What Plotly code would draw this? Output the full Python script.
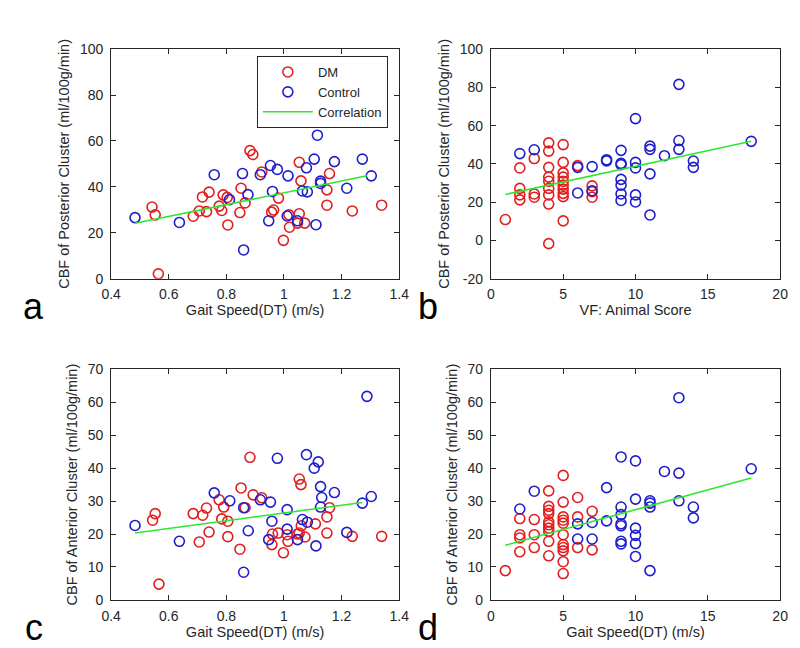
import plotly.graph_objects as go

# ---------------- data ----------------
# Panel a: Gait speed (DT) vs posterior-cluster CBF
a_dm_x = [0.542, 0.553, 0.564, 0.685, 0.706, 0.731, 0.717, 0.740, 0.775, 0.784, 0.789, 0.803, 0.805, 0.847,
          0.851, 0.865, 0.882, 0.892, 0.923, 1.053, 1.158, 1.059, 1.149, 0.981, 0.957, 0.964, 1.149, 1.237,
          1.339, 1.019, 1.017, 1.053, 1.047, 1.072, 0.998]
a_dm_y = [31.2, 27.8, 2.1, 27.2, 29.5, 29.2, 35.6, 37.7, 31.6, 29.7, 36.5, 35.4, 23.4, 28.8,
          39.4, 33.0, 55.8, 54.1, 46.5, 50.7, 45.8, 42.6, 38.7, 35.1, 29.0, 29.9, 32.0, 29.5,
          32.0, 22.4, 27.8, 28.3, 24.2, 24.2, 16.7]
a_ct_x = [0.483, 0.637, 0.758, 0.856, 0.811, 0.875, 0.860, 0.918, 0.953, 0.977, 1.014, 1.105, 1.078, 1.116,
          1.175, 1.272, 1.303, 1.127, 1.127, 1.218, 0.960, 1.064, 1.081, 1.011, 0.947, 1.047, 1.111]
a_ct_y = [26.6, 24.5, 45.3, 45.8, 34.4, 36.6, 12.5, 45.3, 49.3, 47.6, 44.8, 52.1, 48.3, 62.5,
          51.0, 52.1, 44.8, 42.5, 41.5, 39.4, 38.0, 38.2, 37.8, 27.3, 25.2, 25.2, 23.5]
a_fit_x = [0.483, 1.288]
a_fit_y = [24.1, 44.8]

# Panel b: VF animal score vs posterior-cluster CBF
b_dm_x = [1, 2, 2, 2, 2, 3, 3, 3,
          4, 4, 4, 4, 4, 4, 4, 4, 4,
          5, 5, 5, 5, 5, 5, 5, 5, 5, 5,
          6, 7, 7, 7]
b_dm_y = [10.9, 37.9, 27.2, 23.8, 21.2, 42.8, 24.3, 22.6,
          51.0, 46.7, 38.2, 33.1, 30.9, 27.2, 23.8, 19.0, -1.7,
          50.1, 40.8, 35.3, 33.1, 30.9, 28.9, 26.8, 24.6, 22.9, 10.2,
          39.1, 28.5, 25.5, 22.6]
b_ct_x = [2, 3, 6, 6, 7, 7, 8, 8, 9, 9, 9, 9, 9, 9, 9, 10, 10, 10, 10, 10,
          11, 11, 11, 11, 12, 13, 13, 13, 14, 14, 18]
b_ct_y = [45.4, 47.4, 38.2, 24.8, 38.6, 26.0, 41.6, 42.2, 47.1, 40.3, 39.6, 31.9, 28.9, 24.3, 20.9,
          63.7, 40.8, 37.9, 23.8, 20.1, 49.3, 47.6, 34.8, 13.3, 44.3, 81.6, 52.2, 47.6, 41.5, 38.2, 51.8]
b_fit_x = [1, 18]
b_fit_y = [24.0, 51.8]

# Panel c: Gait speed (DT) vs anterior-cluster CBF
c_dm_x = [0.553, 0.544, 0.566, 0.685, 0.718, 0.731, 0.706, 0.740, 0.775, 0.791, 0.784, 0.805, 0.805, 0.847,
          0.851, 0.865, 0.882, 0.893, 1.053, 1.059, 0.923, 1.158, 1.149, 1.060, 1.109, 0.960, 0.980, 0.958,
          1.011, 1.014, 1.047, 1.053, 1.073, 0.998, 1.149, 1.237, 1.339]
c_dm_y = [26.2, 24.2, 4.8, 26.2, 25.7, 27.9, 17.6, 20.6, 30.4, 28.2, 24.6, 23.9, 19.2, 15.4,
          34.0, 28.0, 43.3, 31.9, 36.7, 35.0, 31.0, 28.0, 25.2, 22.5, 23.1, 20.0, 20.3, 16.8,
          19.8, 17.8, 20.0, 20.3, 19.1, 14.3, 20.3, 19.3, 19.3]
c_ct_x = [0.483, 0.637, 0.758, 0.812, 0.860, 0.876, 0.860, 0.977, 1.078, 1.119, 1.105, 0.918, 0.953, 1.127,
          1.131, 1.175, 1.127, 1.011, 1.272, 1.303, 1.288, 0.958, 1.064, 1.081, 1.011, 0.947, 1.047, 1.111, 1.218]
c_ct_y = [22.6, 17.8, 32.5, 30.1, 28.0, 21.0, 8.4, 43.0, 44.1, 41.9, 40.0, 30.4, 29.7, 34.4,
          31.1, 32.6, 28.2, 27.4, 29.4, 31.4, 61.8, 23.9, 24.4, 23.6, 21.5, 18.3, 18.3, 16.4, 20.5]
c_fit_x = [0.483, 1.272]
c_fit_y = [20.3, 29.6]

# Panel d
d_dm_x = [1, 2, 2, 2, 2, 3, 3, 3,
          4, 4, 4, 4, 4, 4, 4, 4, 4, 4,
          5, 5, 5, 5, 5, 5, 5, 5, 5, 5, 5,
          6, 6, 6, 7, 7]
d_dm_y = [8.9, 24.7, 19.8, 18.8, 14.6, 24.4, 19.8, 15.9,
          33.1, 28.4, 27.2, 26.2, 23.7, 22.8, 21.8, 20.8, 17.8, 13.4,
          37.8, 29.7, 25.2, 24.2, 23.3, 19.8, 16.8, 15.9, 14.9, 11.6, 8.0,
          31.1, 25.2, 15.9, 26.9, 15.2]
d_ct_x = [2, 3, 6, 6, 7, 7, 8, 8, 9, 9, 9, 9, 9, 9, 9, 10, 10, 10, 10, 10, 10,
          11, 11, 11, 11, 12, 13, 13, 13, 14, 14, 18]
d_ct_y = [27.6, 33.0, 23.1, 18.5, 23.5, 18.5, 34.1, 24.0, 43.4, 28.2, 25.9, 23.1, 22.5, 17.8, 17.0,
          42.2, 30.6, 21.8, 19.6, 17.1, 13.2, 30.1, 29.4, 28.2, 8.9, 39.0, 61.4, 38.5, 30.1, 28.2, 24.9, 39.8]
d_fit_x = [1, 18]
d_fit_y = [16.6, 37.0]

x_title_gait = "Gait Speed(DT) (m/s)"
x_title_vf = "VF: Animal Score"
y_title_post = "CBF of Posterior Cluster (ml/100g/min)"
y_title_ant = "CBF of Anterior Cluster (ml/100g/min)"

gait_ticks = [0.4, 0.6, 0.8, 1.0, 1.2, 1.4]
gait_ticktext = ["0.4", "0.6", "0.8", "1", "1.2", "1.4"]
score_ticks = [0, 5, 10, 15, 20]
post_ticks_a = [0, 20, 40, 60, 80, 100]
post_ticks_b = [-20, 0, 20, 40, 60, 80, 100]
ant_ticks = [0, 10, 20, 30, 40, 50, 60, 70]

# ---------------- styling ----------------
RED = 'rgb(226,30,30)'
BLUE = 'rgb(30,30,205)'
GREEN = 'rgb(45,232,45)'
AX = '#262626'
FONT = 'Liberation Sans, Arial, sans-serif'

fig = go.Figure()

panels = [
    ('x', 'y', a_dm_x, a_dm_y, a_ct_x, a_ct_y, a_fit_x, a_fit_y, True),
    ('x2', 'y2', b_dm_x, b_dm_y, b_ct_x, b_ct_y, b_fit_x, b_fit_y, False),
    ('x3', 'y3', c_dm_x, c_dm_y, c_ct_x, c_ct_y, c_fit_x, c_fit_y, False),
    ('x4', 'y4', d_dm_x, d_dm_y, d_ct_x, d_ct_y, d_fit_x, d_fit_y, False),
]
for xa, ya, dx, dy, cx, cy, fx, fy, leg in panels:
    fig.add_trace(go.Scatter(x=dx, y=dy, mode='markers', name='DM', xaxis=xa, yaxis=ya,
                             marker=dict(symbol='circle-open', size=10, color=RED, line=dict(width=1.6, color=RED)),
                             showlegend=leg))
    fig.add_trace(go.Scatter(x=cx, y=cy, mode='markers', name='Control', xaxis=xa, yaxis=ya,
                             marker=dict(symbol='circle-open', size=10, color=BLUE, line=dict(width=1.6, color=BLUE)),
                             showlegend=leg))
    fig.add_trace(go.Scatter(x=fx, y=fy, mode='lines', name='Correlation', xaxis=xa, yaxis=ya,
                             line=dict(color=GREEN, width=1.6), showlegend=leg))

W, H = 800, 648
def dx_(l, r):
    return [l / W, r / W]
def dy_(t, b):
    return [1 - b / H, 1 - t / H]

common = dict(showline=True, linecolor=AX, linewidth=1, mirror='allticks', ticks='inside', ticklen=5,
              tickcolor=AX, showgrid=False, zeroline=False, tickfont=dict(size=14, color=AX, family=FONT))

def xax(dom, rng, tv, tt, title, anchor):
    return dict(common, domain=dom, range=rng, tickvals=tv, ticktext=tt, anchor=anchor,
                ticklabelstandoff=3,
                title=dict(text=title, font=dict(size=14.5, color=AX, family=FONT), standoff=1))

def yax(dom, rng, tv, title, anchor):
    return dict(common, domain=dom, range=rng, tickvals=tv, ticktext=[str(v) for v in tv], anchor=anchor,
                ticklabelstandoff=4,
                title=dict(text=title, font=dict(size=14.5, color=AX, family=FONT), standoff=6))

LA, RA = 95.5, 391
LB, RB = 485, 781.7
TT, BT = 34, 269.3
TB, BB = 362.3, 598.7

fig.update_layout(
    width=W, height=H, margin=dict(l=0, r=0, t=0, b=0),
    paper_bgcolor='white', plot_bgcolor='white',
    font=dict(family=FONT, color=AX),
    xaxis=xax(dx_(LA, RA), [0.4, 1.4], gait_ticks, gait_ticktext, x_title_gait, 'y'),
    yaxis=yax(dy_(TT, BT), [0, 100], post_ticks_a, y_title_post, 'x'),
    xaxis2=xax(dx_(LB, RB), [0, 20], score_ticks, [str(v) for v in score_ticks], x_title_vf, 'y2'),
    yaxis2=yax(dy_(TT, BT), [-20, 100], post_ticks_b, y_title_post, 'x2'),
    xaxis3=xax(dx_(LA, RA), [0.4, 1.4], gait_ticks, gait_ticktext, x_title_gait, 'y3'),
    yaxis3=yax(dy_(TB, BB), [0, 70], ant_ticks, y_title_ant, 'x3'),
    xaxis4=xax(dx_(LB, RB), [0, 20], score_ticks, [str(v) for v in score_ticks], x_title_gait, 'y4'),
    yaxis4=yax(dy_(TB, BB), [0, 70], ant_ticks, y_title_ant, 'x4'),
    legend=dict(x=245 / W, y=1 - 41 / H, xanchor='left', yanchor='top',
                bgcolor='white', bordercolor=AX, borderwidth=1,
                font=dict(size=13, color=AX, family=FONT), itemwidth=50, tracegroupgap=0),
    showlegend=True,
)

for lab, px, py in [('a', 16, 298), ('b', 420, 298), ('c', 16, 627), ('d', 420, 627)]:
    fig.add_annotation(text=lab, x=px / W, y=1 - py / H, xref='paper', yref='paper',
                       xanchor='center', yanchor='middle', showarrow=False,
                       font=dict(size=36, color='black', family=FONT))

fig.write_html("out.html")
